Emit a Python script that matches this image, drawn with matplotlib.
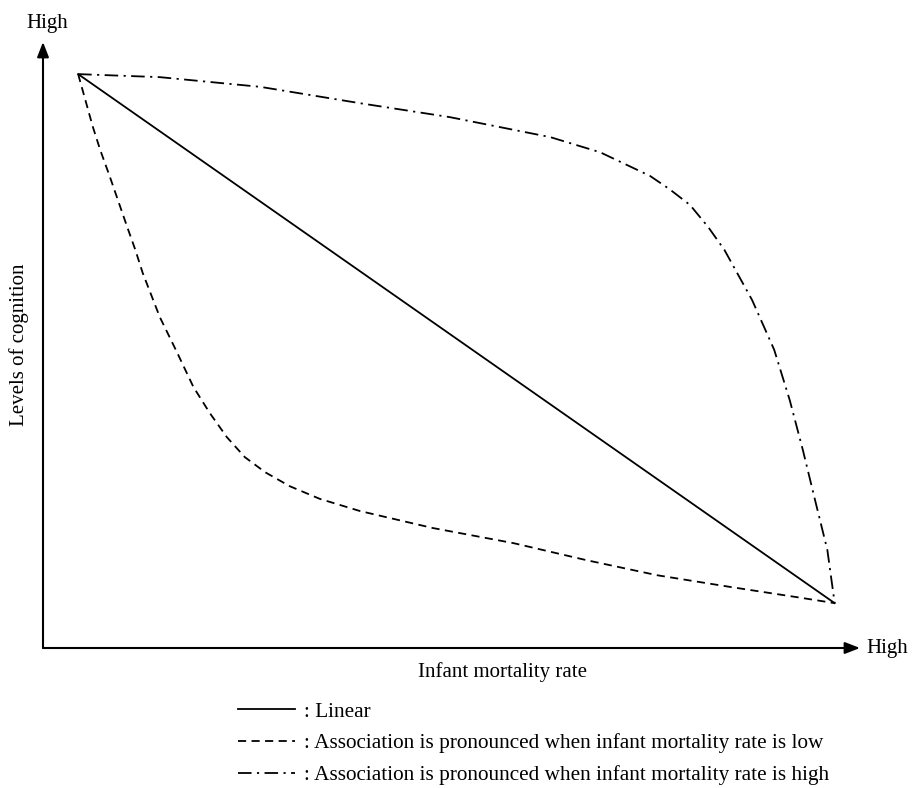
import numpy as np
import matplotlib.pyplot as plt
from matplotlib.lines import Line2D

# axes run 0..100 both ways (conceptual scale, no ticks)
# linear : straight line between the two end points
x_lineaire = [4.3, 96.9]
y_lineaire = [94.7, 7.4]

# association forte quand la mortalité infantile est basse
x_bas = [4.3, 6.1, 7.0, 8.2, 10.3, 11.3, 12.2, 14.3, 16.4, 18.4, 20.4, 22.5,
         24.7, 27.2, 30.2, 33.9, 38.8, 47.7, 57.6, 66.5, 75.2, 84.0, 92.7, 96.9]
y_bas = [94.7, 86.0, 82.2, 77.7, 69.5, 65.7, 61.9, 54.6, 48.8, 43.1, 38.8, 34.8,
         31.5, 29.0, 26.7, 24.6, 22.6, 19.8, 17.3, 14.5, 12.0, 10.1, 8.3, 7.4]

# association forte quand la mortalité infantile est haute
x_haut = [4.3, 14.3, 26.6, 38.8, 49.8, 62.1, 68.2, 74.3, 76.7, 79.2, 81.4,
          83.4, 86.8, 89.5, 91.4, 93.0, 94.5, 96.0, 96.9]
y_haut = [94.7, 94.2, 92.6, 89.9, 87.6, 84.3, 81.8, 77.9, 75.7, 73.1, 69.5,
          65.7, 57.4, 49.2, 40.9, 32.7, 24.4, 16.2, 7.4]

etiquettes = [": Linear",
              ": Association is pronounced when infant mortality rate is low",
              ": Association is pronounced when infant mortality rate is high"]

plt.rcParams['font.family'] = ['Liberation Serif', 'DejaVu Serif']

fig = plt.figure(figsize=(9.19, 7.88), dpi=100)
ax = fig.add_axes([43/919, 140/788, 817/919, 606/788])
ax.set_xlim(0, 100)
ax.set_ylim(0, 100)
ax.axis('off')

lw = 1.3
style_tiret = (0, (4.5, 3))
style_point = (0, (7.5, 3, 1.2, 3))

ax.plot(x_lineaire, y_lineaire, color='black', lw=lw, linestyle='-')
ax.plot(x_bas, y_bas, color='black', lw=lw, linestyle=style_tiret)
ax.plot(x_haut, y_haut, color='black', lw=lw, linestyle=style_point)

# axes avec fleches
fleche = dict(arrowstyle='-|>,head_length=0.9,head_width=0.35', color='black',
              lw=1.5, shrinkA=0, shrinkB=0)
ax.annotate('', xy=(100, 0), xytext=(0, 0), arrowprops=fleche, annotation_clip=False)
ax.annotate('', xy=(0, 100), xytext=(0, 0), arrowprops=fleche, annotation_clip=False)

ax.text(0.5, 103.0, "High", fontsize=15, ha='center', va='center')
ax.text(103.3, 0, "High", fontsize=15, ha='center', va='center')
ax.text(56.2, -3.9, "Infant mortality rate", fontsize=15, ha='center', va='center')
ax.text(-2.9, 50, "Levels of cognition", fontsize=15, ha='center', va='center',
        rotation=90)

poignees = [Line2D([], [], color='black', lw=lw, linestyle='-'),
            Line2D([], [], color='black', lw=lw, linestyle=style_tiret),
            Line2D([], [], color='black', lw=lw, linestyle=style_point)]
fig.legend(poignees, etiquettes, loc='upper left',
           bbox_to_anchor=(238/919, (788-702)/788), frameon=False,
           fontsize=15.3, handlelength=2.7, handletextpad=0.4,
           labelspacing=0.55, borderpad=0, borderaxespad=0)

fig.savefig('out.png', dpi=100, facecolor='white')
